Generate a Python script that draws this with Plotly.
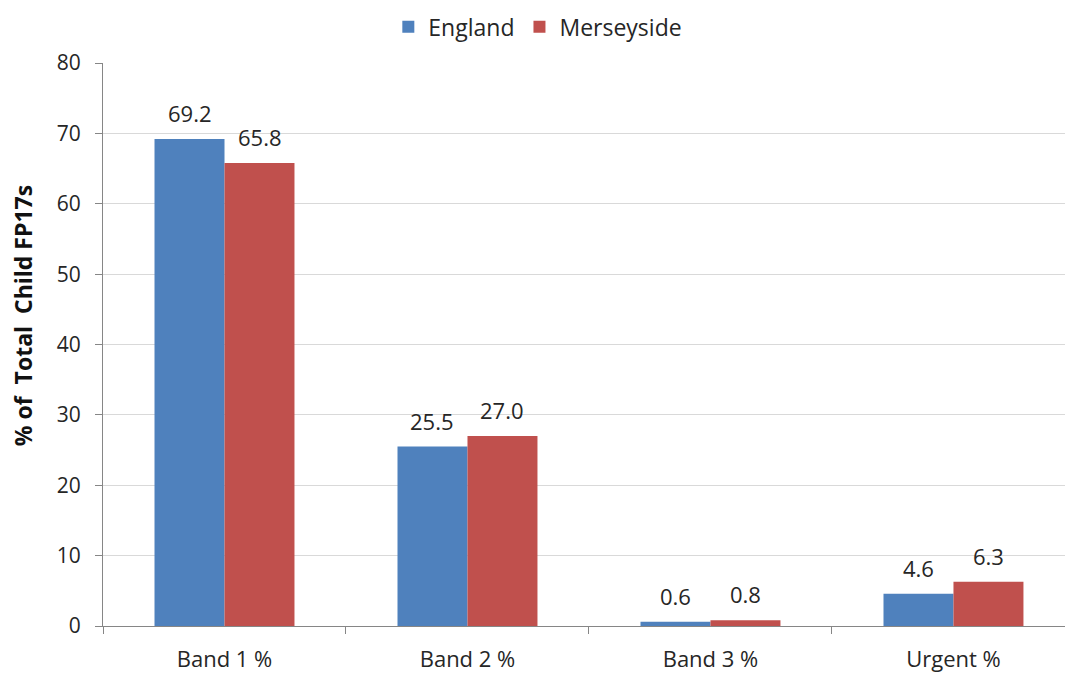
import plotly.graph_objects as go

categories = ["Band 1 %", "Band 2 %", "Band 3 %", "Urgent %"]
england = [69.2, 25.5, 0.6, 4.6]
merseyside = [65.8, 27.0, 0.8, 6.3]
y_ticks = [0, 10, 20, 30, 40, 50, 60, 70, 80]

FONT = "Open Sans"
BLUE = "#4f81bd"
RED = "#c0504d"
TXT = "#262626"

fig = go.Figure()
fig.add_trace(go.Bar(name="England", x=categories, y=england, marker_color=BLUE,
                     marker_line_width=0))
fig.add_trace(go.Bar(name="Merseyside", x=categories, y=merseyside, marker_color=RED,
                     marker_line_width=0))

for i, cat in enumerate(categories):
    for val, shift in ((england[i], -35), (merseyside[i], 35)):
        fig.add_annotation(x=cat, y=val, text=f"{val:.1f}", showarrow=False,
                           xshift=shift, yshift=26,
                           font=dict(family=FONT, size=22, color=TXT))

# y-axis title as a rotated text annotation (placed like the original)
fig.add_annotation(text="<b>% of  Total  Child FP17s</b>", textangle=-90,
                   xref="paper", yref="paper", x=-0.0832, y=0.552,
                   xanchor="center", yanchor="middle", showarrow=False,
                   font=dict(family=FONT, size=23, color="#111"))

fig.update_layout(
    width=1065, height=673,
    margin=dict(l=103, r=0, t=62, b=46),
    paper_bgcolor="white", plot_bgcolor="white",
    barmode="group", bargap=0.424, bargroupgap=0,
    font=dict(family=FONT, size=22, color=TXT),
    legend=dict(orientation="h", x=0.505, xanchor="center", xref="container",
                y=0.992, yanchor="top", yref="container",
                font=dict(family=FONT, size=23, color=TXT),
                itemwidth=30, tracegroupgap=0),
    showlegend=True,
)

fig.update_xaxes(
    type="category", range=[-0.5, 3.459],
    showline=True, linecolor="#868686", linewidth=1,
    ticks="outside", tickson="boundaries", ticklen=7, tickcolor="#868686",
    showgrid=False, ticklabelstandoff=14,
    tickfont=dict(family=FONT, size=22, color=TXT),
)
fig.update_yaxes(
    range=[0, 80], tickvals=y_ticks,
    showline=True, linecolor="#868686", linewidth=1,
    ticks="outside", ticklen=7, tickcolor="#868686",
    showgrid=True, gridcolor="#d9d9d9", gridwidth=1,
    zeroline=False, ticklabelstandoff=10,
    tickfont=dict(family=FONT, size=21, color=TXT),
)

fig.write_html("out.html", config={"displayModeBar": False},
               post_script="document.body.style.margin='0';")
